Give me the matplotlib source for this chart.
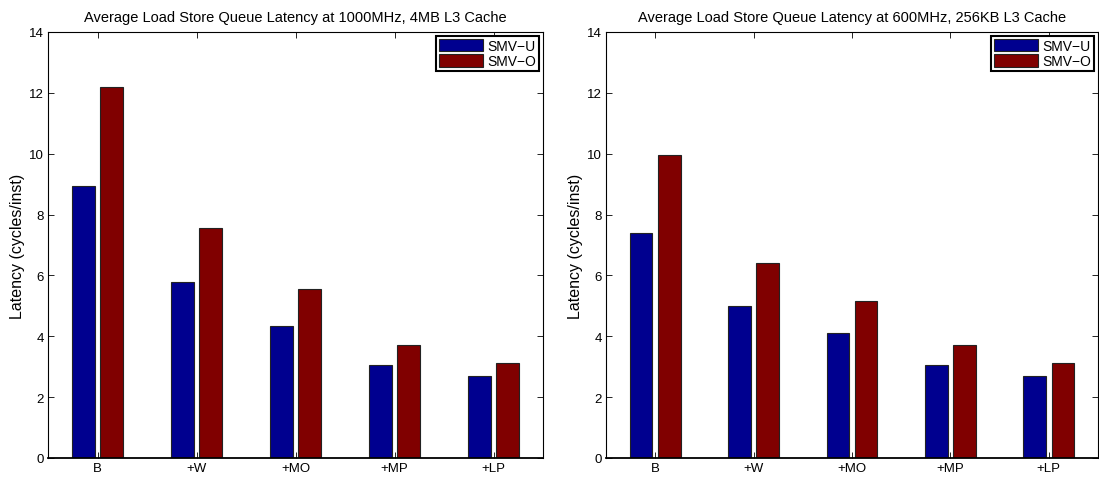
import numpy as np
import matplotlib
matplotlib.use("Agg")
import matplotlib.pyplot as plt

plt.rcParams['font.family'] = ['Liberation Sans', 'DejaVu Sans']

categories = ['B', '+W', '+MO', '+MP', '+LP']
series = ['SMV\u2212U', 'SMV\u2212O']

left_u = [8.95, 5.80, 4.35, 3.05, 2.68]
left_o = [12.20, 7.55, 5.55, 3.70, 3.12]
right_u = [7.38, 5.00, 4.10, 3.07, 2.68]
right_o = [9.95, 6.42, 5.15, 3.70, 3.12]

titles = ['Average Load Store Queue Latency at 1000MHz, 4MB L3 Cache',
          'Average Load Store Queue Latency at 600MHz, 256KB L3 Cache']

blue = '#00008f'
red = '#800000'

W, H = 1099, 481
fig = plt.figure(figsize=(W / 100, H / 100), dpi=100)

boxes = [(48, 543), (606, 1098)]
top, bottom = 33, 459
data = [(left_u, left_o), (right_u, right_o)]

for (x0, x1), (u, o), title in zip(boxes, data, titles):
    ax = fig.add_axes([x0 / W, 1 - bottom / H, (x1 - x0) / W, (bottom - top) / H])
    x = np.arange(1, len(categories) + 1)
    bw = 0.23
    ax.bar(x - 0.143, u, bw, color=blue, edgecolor='#222222', linewidth=0.8, label=series[0])
    ax.bar(x + 0.143, o, bw, color=red, edgecolor='#222222', linewidth=0.8, label=series[1])
    ax.set_xlim(0.5, 5.5)
    ax.set_ylim(0, 14)
    ax.set_xticks(x)
    ax.set_xticklabels(categories)
    ax.set_yticks(np.arange(0, 15, 2))
    ax.tick_params(direction='in', top=True, right=True, labelsize=9.5, length=4, width=0.6, pad=3)
    for s in ax.spines.values():
        s.set_linewidth(0.8)
    ax.spines['bottom'].set_linewidth(1.3)
    ax.set_title(title, fontsize=10.5, pad=8)
    ax.set_ylabel('Latency (cycles/inst)', fontsize=11.5, labelpad=3)
    leg = ax.legend(loc='upper right', fontsize=10, fancybox=False, framealpha=1,
                    borderaxespad=0.3, handlelength=3.2, handleheight=1.0,
                    handletextpad=0.3, borderpad=0.2, labelspacing=0.1)
    leg.get_frame().set_edgecolor('black')
    leg.get_frame().set_linewidth(1.5)

fig.savefig('out.png', dpi=100)
